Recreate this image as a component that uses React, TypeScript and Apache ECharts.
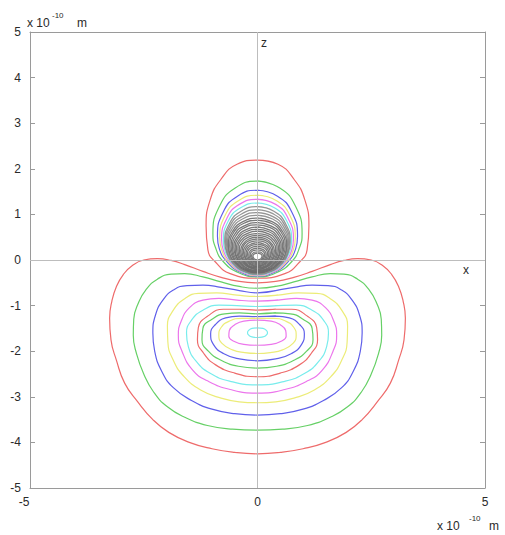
import React, { useEffect, useRef } from "react";
import * as echarts from "echarts";

type P = [number, number];

// Axis tick values
const xTickValues = [-5, 0, 5];
const yTickValues = [-5, -4, -3, -2, -1, 0, 1, 2, 3, 4, 5];

// Contour colour cycle (r, g, b, y, m, c)
const levelColorNames = ["red", "green", "blue", "yellow", "magenta", "cyan"];

// Lower (large) lobe contours, right halves (x >= 0), from top-centre to bottom-centre, units 1e-10 m
const lowerLobe: P[][] = [
  [[0, -0.5], [0.4, -0.47], [0.8, -0.38], [1.2, -0.25], [1.6, -0.1], [1.9, -0.01], [2.2, 0.03], [2.5, 0.0], [2.75, -0.12], [2.95, -0.32], [3.1, -0.58], [3.2, -0.9], [3.25, -1.28], [3.22, -1.75], [3.1, -2.2], [2.92, -2.7], [2.64, -3.1], [2.3, -3.5], [1.95, -3.78], [1.5, -4.0], [1.0, -4.14], [0.5, -4.22], [0, -4.25]],
  [[0, -0.62], [0.4, -0.58], [0.8, -0.48], [1.2, -0.37], [1.6, -0.3], [1.9, -0.31], [2.2, -0.42], [2.45, -0.65], [2.62, -0.95], [2.72, -1.3], [2.73, -1.65], [2.66, -2.05], [2.5, -2.5], [2.28, -2.9], [1.98, -3.22], [1.6, -3.45], [1.1, -3.63], [0.55, -3.71], [0, -3.73]],
  [[0, -0.72], [0.4, -0.67], [0.8, -0.6], [1.2, -0.55], [1.55, -0.56], [1.85, -0.66], [2.08, -0.88], [2.24, -1.2], [2.3, -1.6], [2.26, -2.0], [2.1, -2.45], [1.85, -2.8], [1.45, -3.08], [1.0, -3.27], [0.5, -3.37], [0, -3.4]],
  [[0, -0.8], [0.45, -0.77], [0.9, -0.72], [1.3, -0.73], [1.6, -0.85], [1.85, -1.1], [1.98, -1.45], [1.97, -1.8], [1.85, -2.2], [1.62, -2.55], [1.25, -2.85], [0.8, -3.03], [0.4, -3.11], [0, -3.13]],
  [[0, -0.9], [0.45, -0.88], [0.85, -0.84], [1.2, -0.88], [1.5, -1.05], [1.68, -1.35], [1.74, -1.65], [1.66, -2.0], [1.42, -2.42], [1.1, -2.65], [0.6, -2.84], [0, -2.92]],
  [[0, -1.02], [0.45, -1.0], [0.85, -0.99], [1.2, -1.1], [1.45, -1.32], [1.56, -1.6], [1.52, -1.9], [1.35, -2.22], [1.05, -2.48], [0.6, -2.66], [0, -2.74]],
  [[0, -1.1], [0.4, -1.08], [0.75, -1.08], [1.08, -1.22], [1.3, -1.48], [1.32, -1.75], [1.18, -2.05], [0.92, -2.3], [0.5, -2.48], [0, -2.56]],
  [[0, -1.18], [0.4, -1.16], [0.72, -1.18], [1.0, -1.3], [1.2, -1.5], [1.22, -1.75], [1.08, -2.0], [0.8, -2.2], [0.42, -2.33], [0, -2.37]],
  [[0, -1.24], [0.4, -1.23], [0.7, -1.27], [0.93, -1.42], [1.03, -1.62], [0.97, -1.85], [0.75, -2.05], [0.4, -2.17], [0, -2.21]],
  [[0, -1.28], [0.35, -1.28], [0.62, -1.34], [0.8, -1.48], [0.85, -1.65], [0.78, -1.83], [0.55, -1.97], [0.28, -2.03], [0, -2.05]],
  [[0, -1.32], [0.3, -1.34], [0.5, -1.42], [0.62, -1.55], [0.63, -1.67], [0.52, -1.78], [0.3, -1.85], [0, -1.87]],
  [[0, -1.49], [0.12, -1.5], [0.2, -1.55], [0.22, -1.6], [0.18, -1.66], [0.1, -1.69], [0, -1.7]],
];

// Upper (small) lobe, outer contours drawn in the colour cycle
const upperLobe: P[][] = [
  [[0, 2.19], [0.45, 2.1], [0.81, 1.76], [1.04, 1.32], [1.13, 0.75], [1.09, 0.22], [0.92, -0.05], [0.6, -0.3], [0, -0.4]],
  [[0, 1.73], [0.49, 1.58], [0.83, 1.19], [0.98, 0.58], [0.93, 0.29], [0.74, -0.05], [0.39, -0.29], [0, -0.37]],
  [[0, 1.53], [0.44, 1.4], [0.75, 1.06], [0.88, 0.52], [0.84, 0.25], [0.66, -0.05], [0.35, -0.28], [0, -0.35]],
  [[0, 1.42], [0.42, 1.3], [0.71, 0.98], [0.83, 0.48], [0.79, 0.23], [0.62, -0.06], [0.33, -0.27], [0, -0.34]],
  [[0, 1.33], [0.4, 1.22], [0.67, 0.92], [0.79, 0.45], [0.75, 0.21], [0.59, -0.06], [0.32, -0.27], [0, -0.33]],
  [[0, 1.25], [0.38, 1.14], [0.64, 0.86], [0.75, 0.42], [0.71, 0.19], [0.56, -0.07], [0.3, -0.26], [0, -0.32]],
];

// Densely packed inner contours of the upper lobe (they read as a grey blob)
const upperCore: P[][] = [
  [[0, 1.17], [0.36, 1.07], [0.61, 0.81], [0.72, 0.4], [0.68, 0.18], [0.54, -0.07], [0.29, -0.25], [0, -0.31]],
  [[0, 1.1], [0.35, 1.01], [0.6, 0.76], [0.7, 0.38], [0.67, 0.17], [0.53, -0.07], [0.28, -0.25], [0, -0.3]],
  [[0, 1.04], [0.34, 0.95], [0.58, 0.72], [0.68, 0.36], [0.65, 0.16], [0.51, -0.08], [0.27, -0.25], [0, -0.3]],
  [[0, 0.98], [0.33, 0.9], [0.56, 0.68], [0.66, 0.35], [0.63, 0.15], [0.5, -0.07], [0.26, -0.24], [0, -0.29]],
  [[0, 0.92], [0.32, 0.84], [0.54, 0.64], [0.64, 0.33], [0.61, 0.14], [0.48, -0.07], [0.26, -0.23], [0, -0.28]],
  [[0, 0.87], [0.31, 0.8], [0.52, 0.61], [0.61, 0.32], [0.58, 0.14], [0.46, -0.07], [0.24, -0.22], [0, -0.27]],
  [[0, 0.82], [0.29, 0.75], [0.49, 0.58], [0.58, 0.3], [0.55, 0.13], [0.44, -0.07], [0.23, -0.22], [0, -0.26]],
  [[0, 0.77], [0.28, 0.71], [0.47, 0.54], [0.55, 0.29], [0.52, 0.12], [0.41, -0.07], [0.22, -0.21], [0, -0.25]],
  [[0, 0.72], [0.26, 0.66], [0.44, 0.51], [0.52, 0.28], [0.49, 0.12], [0.39, -0.06], [0.21, -0.2], [0, -0.24]],
  [[0, 0.67], [0.25, 0.62], [0.42, 0.48], [0.49, 0.26], [0.47, 0.11], [0.37, -0.06], [0.2, -0.19], [0, -0.23]],
  [[0, 0.63], [0.23, 0.58], [0.39, 0.45], [0.46, 0.25], [0.44, 0.11], [0.35, -0.05], [0.18, -0.17], [0, -0.21]],
  [[0, 0.58], [0.22, 0.54], [0.37, 0.42], [0.43, 0.24], [0.41, 0.1], [0.32, -0.05], [0.17, -0.16], [0, -0.2]],
  [[0, 0.54], [0.2, 0.5], [0.34, 0.39], [0.4, 0.22], [0.38, 0.1], [0.3, -0.04], [0.16, -0.15], [0, -0.18]],
  [[0, 0.5], [0.19, 0.46], [0.31, 0.36], [0.37, 0.21], [0.35, 0.09], [0.28, -0.04], [0.15, -0.14], [0, -0.17]],
  [[0, 0.46], [0.17, 0.43], [0.29, 0.34], [0.34, 0.2], [0.32, 0.09], [0.26, -0.03], [0.14, -0.12], [0, -0.15]],
  [[0, 0.42], [0.16, 0.39], [0.26, 0.31], [0.31, 0.19], [0.29, 0.09], [0.23, -0.03], [0.12, -0.11], [0, -0.14]],
  [[0, 0.38], [0.14, 0.35], [0.24, 0.28], [0.28, 0.17], [0.27, 0.08], [0.21, -0.02], [0.11, -0.1], [0, -0.12]],
  [[0, 0.34], [0.13, 0.32], [0.21, 0.26], [0.25, 0.16], [0.24, 0.08], [0.19, -0.01], [0.1, -0.08], [0, -0.1]],
  [[0, 0.3], [0.11, 0.28], [0.19, 0.23], [0.22, 0.15], [0.21, 0.08], [0.17, 0.0], [0.09, -0.06], [0, -0.08]],
  [[0, 0.26], [0.1, 0.24], [0.16, 0.2], [0.19, 0.13], [0.18, 0.07], [0.14, 0.0], [0.08, -0.04], [0, -0.06]],
  [[0, 0.22], [0.08, 0.21], [0.14, 0.17], [0.16, 0.12], [0.15, 0.07], [0.12, 0.01], [0.06, -0.03], [0, -0.04]],
  [[0, 0.18], [0.07, 0.17], [0.11, 0.14], [0.13, 0.1], [0.12, 0.06], [0.1, 0.02], [0.05, -0.01], [0, -0.02]],
  [[0, 0.15], [0.05, 0.14], [0.085, 0.12], [0.1, 0.09], [0.095, 0.06], [0.075, 0.03], [0.04, 0.01], [0, 0.0]],
];

const colorHex: Record<string, string> = {
  red: "#ee6b6b",
  green: "#66d066",
  blue: "#6060ea",
  yellow: "#ecec78",
  magenta: "#ec76ec",
  cyan: "#78ecec",
};

function closeLoop(half: P[]): P[] {
  const left = half.slice(1, -1).reverse().map(([x, z]) => [-x, z] as P);
  // repeat the second point so that the closing joint is smoothed too
  return [...half, ...left, half[0], half[1]];
}

export default function App() {
  const ref = useRef<HTMLDivElement>(null);

  useEffect(() => {
    if (!ref.current) return;
    const chart = echarts.init(ref.current, undefined, { renderer: "svg" });

    const base = {
      type: "line" as const,
      showSymbol: false,
      symbol: "none",
      smooth: 0.5,
      silent: true,
      animation: false,
    };

    const series: any[] = [];
    series.push({
      type: "line",
      data: [[0, 0]],
      symbol: "none",
      silent: true,
      lineStyle: { width: 0 },
      markLine: {
        silent: true,
        symbol: "none",
        label: { show: false },
        lineStyle: { color: "#bdbdbd", width: 1, type: "solid" },
        data: [{ xAxis: 0 }, { yAxis: 0 }],
        animation: false,
      },
      z: 1,
    });
    lowerLobe.forEach((half, i) => {
      series.push({
        ...base,
        data: closeLoop(half),
        lineStyle: { color: colorHex[levelColorNames[i % 6]], width: 1.2 },
        z: 2,
      });
    });
    upperLobe.forEach((half, i) => {
      series.push({
        ...base,
        data: closeLoop(half),
        lineStyle: { color: colorHex[levelColorNames[i % 6]], width: 1.2 },
        z: 2,
      });
    });
    upperCore.forEach((half, i) => {
      series.push({
        ...base,
        data: closeLoop(half),
        lineStyle: { color: i < 4 ? "#8a8a8a" : "#6a6a6a", width: 1.3, opacity: 0.9 },
        z: 3,
      });
    });

    const axisLine = { show: true, onZero: false, lineStyle: { color: "#9a9a9a", width: 1 } };
    const axisTick = { show: true, inside: true, length: 5, lineStyle: { color: "#9a9a9a" } };
    const labelStyle = { color: "#2a2a2a", fontSize: 12, fontFamily: "Liberation Sans, Arial, sans-serif" };

    chart.setOption({
      animation: false,
      backgroundColor: "#ffffff",
      grid: { left: 30, top: 32, width: 455, height: 456, containLabel: false },
      xAxis: [
        {
          type: "value",
          min: xTickValues[0],
          max: xTickValues[xTickValues.length - 1],
          interval: 5,
          position: "bottom",
          axisLine,
          axisTick,
          splitLine: { show: false },
          axisLabel: {
            ...labelStyle,
            margin: 8,
            formatter: (v: number) => (v === xTickValues[0] ? "{l|" + v + "}" : String(v)),
            rich: { l: { ...labelStyle, padding: [0, 12, 0, 0] } },
          },
        },
        {
          type: "value",
          min: xTickValues[0],
          max: xTickValues[xTickValues.length - 1],
          interval: 5,
          position: "top",
          axisLine,
          axisTick,
          splitLine: { show: false },
          axisLabel: { show: false },
        },
      ],
      yAxis: [
        {
          type: "value",
          min: yTickValues[0],
          max: yTickValues[yTickValues.length - 1],
          interval: 1,
          position: "left",
          axisLine,
          axisTick,
          splitLine: { show: false },
          axisLabel: { ...labelStyle, margin: 9 },
        },
        {
          type: "value",
          min: yTickValues[0],
          max: yTickValues[yTickValues.length - 1],
          interval: 1,
          position: "right",
          axisLine,
          axisTick,
          splitLine: { show: false },
          axisLabel: { show: false },
        },
      ],
      graphic: [
        { type: "text", x: 27, y: 23, style: { text: "x 10", font: "12px Liberation Sans", fill: "#2a2a2a", verticalAlign: "middle" } },
        { type: "text", x: 52, y: 15, style: { text: "-10", font: "8px Liberation Sans", fill: "#2a2a2a", verticalAlign: "middle" } },
        { type: "text", x: 77, y: 23, style: { text: "m", font: "12px Liberation Sans", fill: "#2a2a2a", verticalAlign: "middle" } },
        { type: "text", x: 437, y: 526, style: { text: "x 10", font: "12px Liberation Sans", fill: "#2a2a2a", verticalAlign: "middle" } },
        { type: "text", x: 469, y: 518, style: { text: "-10", font: "8px Liberation Sans", fill: "#2a2a2a", verticalAlign: "middle" } },
        { type: "text", x: 489, y: 526, style: { text: "m", font: "12px Liberation Sans", fill: "#2a2a2a", verticalAlign: "middle" } },
        { type: "text", x: 261, y: 43, style: { text: "z", font: "12px Liberation Sans", fill: "#2a2a2a", verticalAlign: "middle" } },
        { type: "text", x: 463, y: 270, style: { text: "x", font: "12px Liberation Sans", fill: "#2a2a2a", verticalAlign: "middle" } },
      ],
      series,
    });

    return () => chart.dispose();
  }, []);

  return (
    <div
      ref={ref}
      style={{ position: "absolute", left: 0, top: 0, width: 505, height: 535, background: "#fff" }}
    />
  );
}
